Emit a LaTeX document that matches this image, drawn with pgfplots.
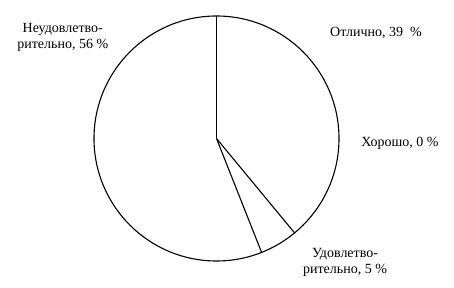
\documentclass[border=0pt]{standalone}
\usepackage{fontspec}
\setmainfont{Liberation Serif}
\usepackage{pgfplots}
\pgfplotsset{compat=1.18}
\begin{document}
\begin{tikzpicture}
\begin{axis}[
  hide axis, scale only axis,
  width=454pt, height=288pt,
  xmin=-1.7673, xmax=1.9388, ymin=-1.2204, ymax=1.1306,
  clip=false,
]
\path (rel axis cs:0,0) rectangle (rel axis cs:1,1);
% pie outline
\draw[black, line width=1.1pt] (axis cs:0,0) circle[radius=1];
% slice borders: shares 39, 0, 5, 56 %, clockwise from top
% angle = 90 - 3.6 * cumulative %
\addplot[black, line width=1.1pt, data cs=polar] coordinates {(90,0) (90,1)};       % 0 %
\addplot[black, line width=1.1pt, data cs=polar] coordinates {(0,0) (-50.4,1)};    % 39 %
\addplot[black, line width=1.1pt, data cs=polar] coordinates {(0,0) (-68.4,1)};    % 44 %
\node[font=\fontsize{14}{16}\selectfont, align=center] at (axis cs:-1.255,0.829) {Неудовлетво-\\рительно, 56 \%};
\node[font=\fontsize{14}{16}\selectfont] at (axis cs:1.302,0.861) {Отлично, 39~~\%};
\node[font=\fontsize{14}{16}\selectfont] at (axis cs:1.498,-0.037) {Хорошо, 0 \%};
\node[font=\fontsize{14}{16}\selectfont, align=center] at (axis cs:1.049,-1.008) {Удовлетво-\\рительно, 5 \%};
\end{axis}
\end{tikzpicture}
\end{document}
